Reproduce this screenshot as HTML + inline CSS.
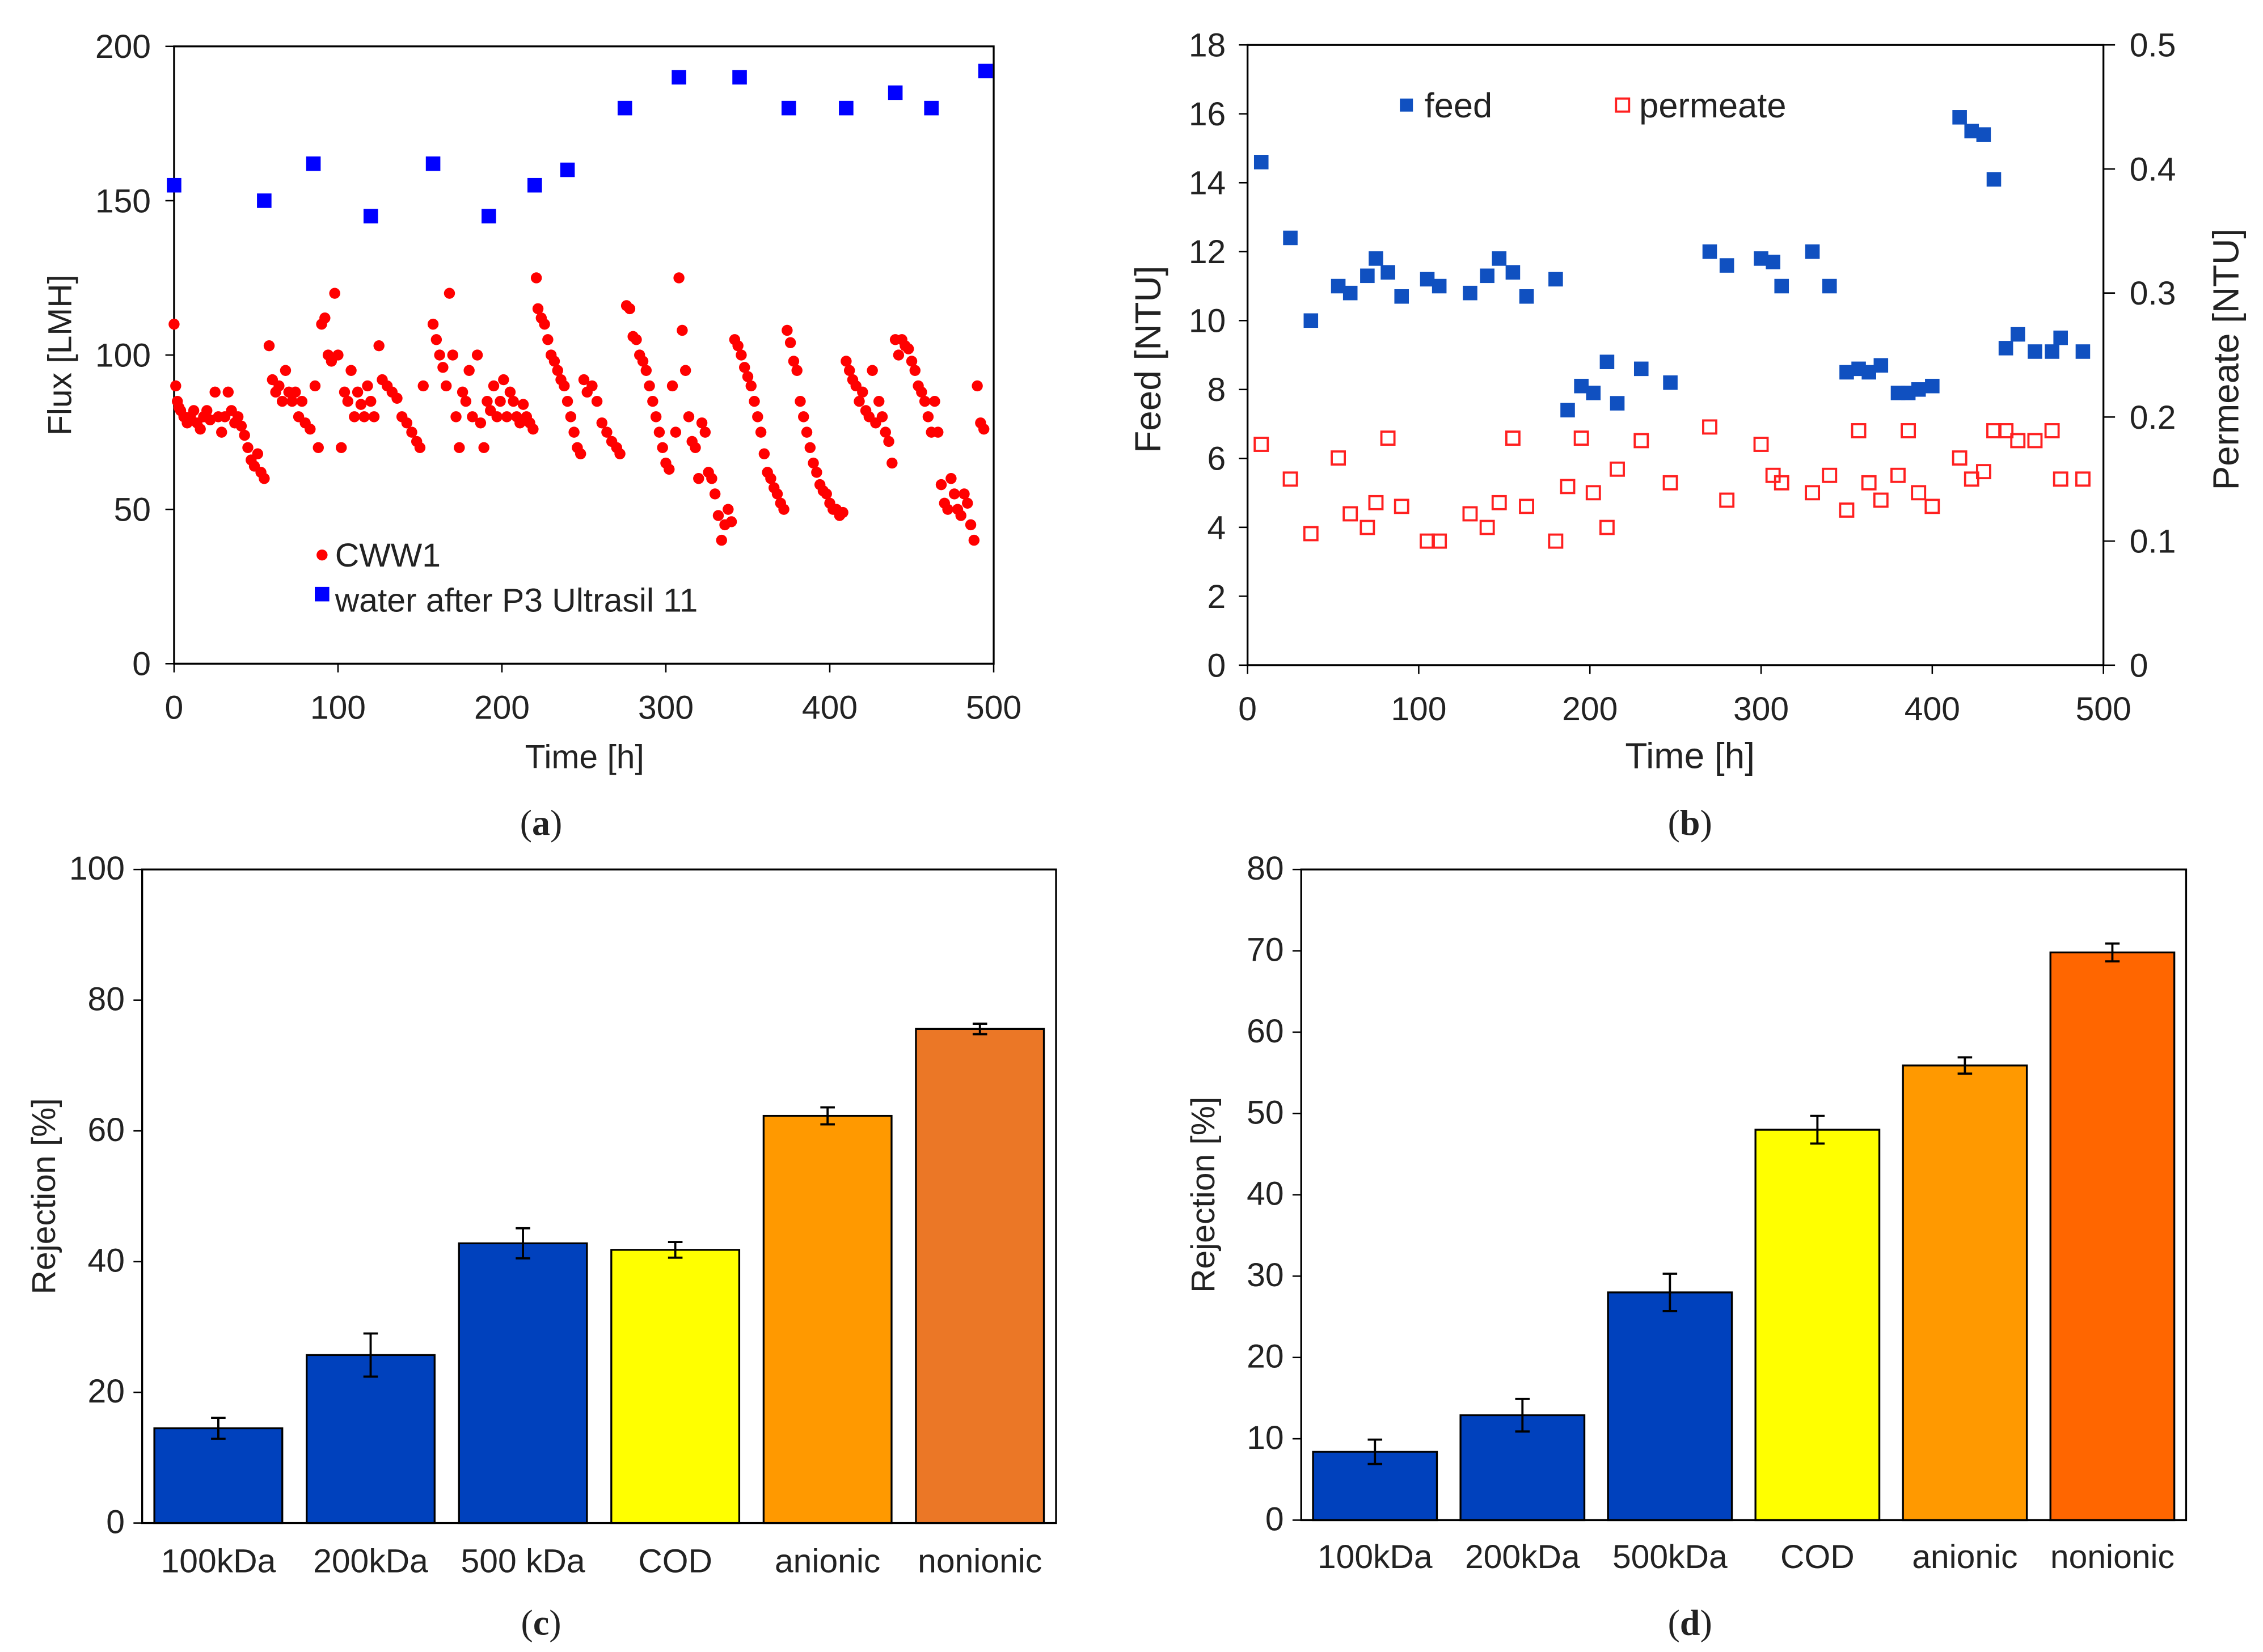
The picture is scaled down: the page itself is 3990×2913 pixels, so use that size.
<!DOCTYPE html>
<html><head><meta charset="utf-8">
<style>
html,body{margin:0;padding:0;background:#fff;}
svg{display:block;}
text{font-family:"Liberation Sans",sans-serif;fill:#222;}
.cap{font-family:"Liberation Serif",serif;font-size:25px;}
</style></head>
<body>
<svg id="fig" width="3990" height="2913" viewBox="0 0 1560 1140" preserveAspectRatio="none" xmlns="http://www.w3.org/2000/svg">
<g id="pa"></g>
<g id="pb"></g>
<g id="pc"></g>
<g id="pd"></g>
<text class="cap" x="373" y="576" text-anchor="middle">(<tspan font-weight="bold">a</tspan>)</text>
<text class="cap" x="1165" y="576" text-anchor="middle">(<tspan font-weight="bold">b</tspan>)</text>
<text class="cap" x="373" y="1128" text-anchor="middle">(<tspan font-weight="bold">c</tspan>)</text>
<text class="cap" x="1165" y="1128" text-anchor="middle">(<tspan font-weight="bold">d</tspan>)</text>
</svg>
<script>
// Panel a data
const aWaterT=[0,55,85,120,158,192,220,240,275,308,345,375,410,440,462,495];
const aWaterV=[155,150,162,145,162,145,155,160,180,190,190,180,180,185,180,192];
const aCwwT=[0,1,2,3,4,6,8,10,12,14,16,18,20,22,25,27,29,31,33,35,37,39,41,43,45,47,49,51,53,55,
58,60,62,64,66,68,70,72,74,76,78,80,83,86,88,90,92,94,96,98,100,102,104,106,
108,110,112,114,116,118,120,122,125,127,130,133,136,139,142,145,148,150,152,
158,160,162,164,166,168,170,172,174,176,178,180,182,185,187,189,191,193,
195,197,199,201,203,205,207,209,211,213,215,217,219,221,
222,224,226,228,230,232,234,236,238,240,242,244,246,248,250,252,255,258,261,264,267,270,272,
276,278,280,282,284,286,288,290,292,294,296,298,300,302,304,306,308,310,
312,314,316,318,320,322,324,326,328,330,332,334,336,338,340,
342,344,346,348,350,352,354,356,358,360,362,364,366,368,370,372,374,376,378,380,
382,384,386,388,390,392,394,396,398,400,402,404,406,408,
410,412,414,416,418,420,422,424,426,428,430,432,434,436,438,440,442,444,
446,448,450,452,454,456,458,460,462,464,466,468,470,472,474,476,478,480,482,484,486,488,490,492,494];
const aCwwV=[110,90,85,83,82,80,78,80,82,78,76,80,82,79,88,80,75,80,88,82,78,80,77,74,70,66,64,68,62,60,
103,92,88,90,85,95,88,85,88,80,85,78,76,90,70,110,112,100,98,120,100,70,88,85,
95,80,88,84,80,90,85,80,103,92,90,88,86,80,78,75,72,70,90,
110,105,100,96,90,120,100,80,70,88,85,95,80,100,78,70,85,82,
90,80,85,92,80,88,85,80,78,84,80,78,76,125,
115,112,110,105,100,98,95,92,90,85,80,75,70,68,92,88,90,85,78,75,72,70,68,
116,115,106,105,100,98,95,90,85,80,75,70,65,63,90,75,125,108,
95,80,72,70,60,78,75,62,60,55,48,40,45,50,46,
105,103,100,96,93,90,85,80,75,68,62,60,57,55,52,50,108,104,98,95,
85,80,75,70,65,62,58,56,55,52,50,50,48,49,
98,95,92,90,85,88,82,80,95,78,85,80,75,72,65,105,100,105,
103,102,98,95,90,88,85,80,75,85,75,58,52,50,60,55,50,48,55,52,45,40,90,78,76];
const aXTicks=[0,100,200,300,400,500];
const aYTicks=[0,50,100,150,200];
// Panel b data
const bT=[8,25,37,53,60,70,75,82,90,105,112,130,140,147,155,163,180,187,195,202,210,216,230,247,270,280,300,307,312,330,340,350,357,363,370,380,386,392,400,416,423,430,436,443,450,460,470,475,488];
const bFeed=[14.6,12.4,10,11,10.8,11.3,11.8,11.4,10.7,11.2,11,10.8,11.3,11.8,11.4,10.7,11.2,7.4,8.1,7.9,8.8,7.6,8.6,8.2,12,11.6,11.8,11.7,11,12,11,8.5,8.6,8.5,8.7,7.9,7.9,8,8.1,15.9,15.5,15.4,14.1,9.2,9.6,9.1,9.1,9.5,9.1];
const bPermT=[8,25,37,53,60,70,75,82,90,105,112,130,140,147,155,163,180,187,195,202,210,216,230,247,270,280,300,307,312,330,340,350,357,363,370,380,386,392,400,416,423,430,436,443,450,460,470,475,488];
const bPerm=[0.178,0.15,0.106,0.167,0.122,0.111,0.131,0.183,0.128,0.1,0.1,0.122,0.111,0.131,0.183,0.128,0.1,0.144,0.183,0.139,0.111,0.158,0.181,0.147,0.192,0.133,0.178,0.153,0.147,0.139,0.153,0.125,0.189,0.147,0.133,0.153,0.189,0.139,0.128,0.167,0.15,0.156,0.189,0.189,0.181,0.181,0.189,0.15,0.15];
const bXTicks=[0,100,200,300,400,500];
const bYTicks=[0,2,4,6,8,10,12,14,16,18];
const bY2Ticks=[0,0.1,0.2,0.3,0.4,0.5];
// Panel c data
const cCats=["100kDa","200kDa","500 kDa","COD","anionic","nonionic"];
const cVals=[14.5,25.7,42.8,41.8,62.3,75.6];
const cErr=[1.6,3.3,2.3,1.2,1.3,0.8];
const cTicks=[0,20,40,60,80,100];
// Panel d data
const dCats=["100kDa","200kDa","500kDa","COD","anionic","nonionic"];
const dVals=[8.4,12.9,28,48,55.9,69.8];
const dErr=[1.5,2,2.3,1.7,1,1.1];
const dTicks=[0,10,20,30,40,50,60,70,80];
const cColors=["#0041bd","#0041bd","#0041bd","#ffff00","#ff9900","#eb7726"];
const dColors=["#0041bd","#0041bd","#0041bd","#ffff00","#ff9900","#ff6600"];

const NS="http://www.w3.org/2000/svg";
function mk(parent,tag,attrs,txt){const e=document.createElementNS(NS,tag);for(const k in attrs)e.setAttribute(k,attrs[k]);if(txt!==undefined)e.textContent=txt;parent.appendChild(e);return e;}
function lin(d0,d1,r0,r1){return v=>r0+(v-d0)/(d1-d0)*(r1-r0);}

// ---- Panel a
(function(){
const g=document.getElementById('pa');
const x=lin(0,500,120,685), y=lin(0,200,458,32);
const fr=mk(g,'rect',{x:120,y:32,width:565,height:426,fill:'none',stroke:'#000','stroke-width':1.3});


aXTicks.forEach(t=>{mk(g,'line',{x1:x(t),x2:x(t),y1:458,y2:464,stroke:'#000'});
const l=mk(g,'text',{x:x(t),y:496,'font-size':23,'text-anchor':'middle'},t);
});
aYTicks.forEach(t=>{mk(g,'line',{x1:114,x2:120,y1:y(t),y2:y(t),stroke:'#000'});
const l=mk(g,'text',{x:104,y:y(t)+8,'font-size':23,'text-anchor':'end'},t);
});
const xt=mk(g,'text',{x:403,y:530,'font-size':23,'text-anchor':'middle'},'Time [h]');

const yt=mk(g,'text',{x:0,y:0,'font-size':23,'text-anchor':'middle',transform:'translate(49,245) rotate(-90)'},'Flux [LMH]');

aCwwT.forEach((t,i)=>{const c=mk(g,'circle',{cx:x(t),cy:y(aCwwV[i]),r:3.8,fill:'#ff0000'});
});
aWaterT.forEach((t,i)=>{const r=mk(g,'rect',{x:x(t)-5,y:y(aWaterV[i])-5,width:10,height:10,fill:'#0000ff'});
});
const l1=mk(g,'g',{});
mk(l1,'circle',{cx:222,cy:383,r:3.8,fill:'#ff0000'});
mk(l1,'text',{x:231,y:391,'font-size':23},'CWW1');
const l2=mk(g,'g',{});
mk(l2,'rect',{x:217,y:405,width:10,height:10,fill:'#0000ff'});
mk(l2,'text',{x:231,y:422,'font-size':23},'water after P3 Ultrasil 11');
})();

// ---- Panel b
(function(){
const g=document.getElementById('pb');
const x=lin(0,500,860,1450), y=lin(0,18,459,31), y2=lin(0,0.5,459,31);
const fr=mk(g,'rect',{x:860,y:31,width:590,height:428,fill:'none',stroke:'#000','stroke-width':1.3});

bXTicks.forEach(t=>{mk(g,'line',{x1:x(t),x2:x(t),y1:459,y2:465,stroke:'#000'});
const l=mk(g,'text',{x:x(t),y:497,'font-size':23,'text-anchor':'middle'},t);
});
bYTicks.forEach(t=>{mk(g,'line',{x1:854,x2:860,y1:y(t),y2:y(t),stroke:'#000'});
const l=mk(g,'text',{x:845,y:y(t)+8,'font-size':23,'text-anchor':'end'},t);
});
bY2Ticks.forEach(t=>{mk(g,'line',{x1:1450,x2:1458,y1:y2(t),y2:y2(t),stroke:'#000'});
const l=mk(g,'text',{x:1468,y:y2(t)+8,'font-size':23},String(t));
});
const xt=mk(g,'text',{x:1165,y:530,'font-size':25,'text-anchor':'middle'},'Time [h]');

const yt=mk(g,'text',{x:0,y:0,'font-size':25,'text-anchor':'middle',transform:'translate(800,248) rotate(-90)'},'Feed [NTU]');

const yt2=mk(g,'text',{x:0,y:0,'font-size':25,'text-anchor':'middle',transform:'translate(1543,248) rotate(-90)'},'Permeate [NTU]');

bT.forEach((t,i)=>{const r=mk(g,'rect',{x:x(t)-5,y:y(bFeed[i])-5,width:10,height:10,fill:'#1050c0'});
});
bPermT.forEach((t,i)=>{const r=mk(g,'rect',{x:x(t)-4.5,y:y2(bPerm[i])-4.5,width:9,height:9,fill:'none',stroke:'#ff2020','stroke-width':1.5});
});
const l1=mk(g,'g',{});
mk(l1,'rect',{x:965,y:68,width:9,height:9,fill:'#1050c0'});
mk(l1,'text',{x:982,y:81,'font-size':24},'feed');
const l2=mk(g,'g',{});
mk(l2,'rect',{x:1114,y:68,width:9,height:9,fill:'none',stroke:'#ff2020','stroke-width':1.5});
mk(l2,'text',{x:1130,y:81,'font-size':24},'permeate');
})();

// ---- Bar panels
function bars(id,cats,vals,errs,ticks,colors,x0,x1,yb,yt,ymax,labY,fs,tag){
const g=document.getElementById(id);
const y=lin(0,ymax,yb,yt);
const fr=mk(g,'rect',{x:x0,y:yt,width:x1-x0,height:yb-yt,fill:'none',stroke:'#000','stroke-width':1.3});

ticks.forEach(t=>{mk(g,'line',{x1:x0-6,x2:x0,y1:y(t),y2:y(t),stroke:'#000'});
const l=mk(g,'text',{x:x0-12,y:y(t)+7,'font-size':fs,'text-anchor':'end'},t);
});
const slot=(x1-x0)/cats.length, bw=slot*0.84;
cats.forEach((c,i)=>{const cx=x0+slot*(i+0.5);
const b=mk(g,'rect',{x:cx-bw/2,y:y(vals[i]),width:bw,height:yb-y(vals[i]),fill:colors[i],stroke:'#000','stroke-width':1.3});

const e=mk(g,'g',{stroke:'#000','stroke-width':1.5});

mk(e,'line',{x1:cx,x2:cx,y1:y(vals[i]+errs[i]),y2:y(vals[i]-errs[i])});
mk(e,'line',{x1:cx-5,x2:cx+5,y1:y(vals[i]+errs[i]),y2:y(vals[i]+errs[i])});
mk(e,'line',{x1:cx-5,x2:cx+5,y1:y(vals[i]-errs[i]),y2:y(vals[i]-errs[i])});
const l=mk(g,'text',{x:cx,y:labY,'font-size':fs,'text-anchor':'middle'},c);
});
const yl=mk(g,'text',{x:0,y:0,'font-size':fs,'text-anchor':'middle',transform:`translate(${x0-60},${(yb+yt)/2}) rotate(-90)`},'Rejection [%]');

}
bars('pc',cCats,cVals,cErr,cTicks,cColors,98,728,1051,600,100,1085,23,'c');
bars('pd',dCats,dVals,dErr,dTicks,dColors,897,1507,1049,600,80,1082,23,'d');
</script>
</body></html>
